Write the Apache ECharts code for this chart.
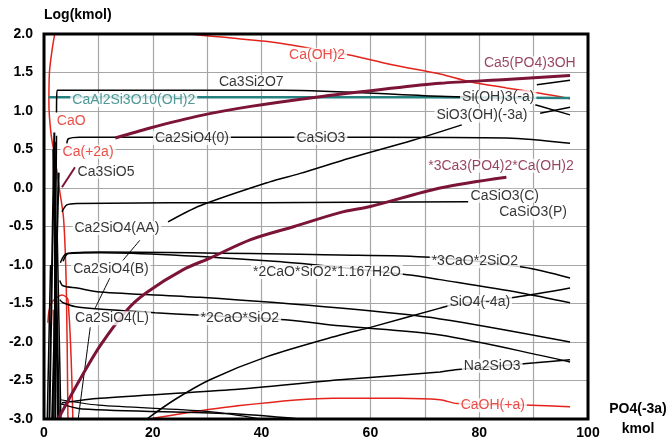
<!DOCTYPE html>
<html>
<head>
<meta charset="utf-8">
<script src="https://cdn.jsdelivr.net/npm/echarts@6/dist/echarts.min.js"></script>
<style>
  html, body { margin: 0; padding: 0; background: #fff; }
  #chart { width: 667px; height: 440px; }
</style>
</head>
<body>
<div id="chart"></div>
<script>
// tick values
const xTickStep = 20;
const yTickDigits = 1;

// curves: [PO4 kmol, log(kmol)]
const caOH2Upper = [[25, 2.03], [26.8, 2.0], [34, 1.95], [41.5, 1.9], [45.2, 1.86], [50, 1.8], [55.9, 1.73], [64, 1.6], [72.8, 1.48], [78.3, 1.38], [85, 1.3], [91.2, 1.23], [96.7, 1.16]];
const caOH2Left = [[2.1, 2.05], [1.5, 1.8], [1.0, 1.5], [0.9, 1.1], [1.3, 0.7], [2.0, 0.4], [2.8, 0.0], [3.6, -0.4], [4.1, -1.3], [4.4, -3.0]];
const ca5PO43OH = [[13.1, 0.65], [19.5, 0.78], [28.7, 0.94], [38, 1.06], [50, 1.18], [62, 1.28], [72.8, 1.36], [85, 1.41], [96.7, 1.46]];
const ca3PO42CaOH2 = [[2.6, -3.0], [6.5, -2.5], [10.3, -2.05], [15.3, -1.58], [19, -1.35], [25.6, -1.06], [30.5, -0.91], [38, -0.67], [46, -0.5], [54.4, -0.32], [60, -0.24], [72.8, 0.0], [85, 0.14]];
const ca3Si2O7 = [[2.3, 0.98], [2.4, 1.27], [30.5, 1.27], [43.9, 1.27], [72.8, 1.19], [80, 1.18]];
const siOH3 = [[90.6, 1.34], [96.7, 1.4]];
const caAl2Si3O10 = [[0.8, 1.18], [50, 1.18], [96.7, 1.17]];
const caSiO3 = [[4.2, 0.58], [4.5, 0.64], [6.5, 0.66], [30, 0.66], [60, 0.66], [85, 0.65], [96.7, 0.58]];
const sio3OH = [[22.8, -0.44], [28.7, -0.23], [41.5, 0.08], [47.1, 0.19], [56.3, 0.39], [67.8, 0.62], [76.8, 0.82]];
const rightDown = [[90.3, 1.08], [96.7, 0.95]];
const rightUp = [[91.2, 0.97], [96.7, 1.05]];
const caSiO3C = [[3.3, -0.31], [4.2, -0.22], [6, -0.2], [40, -0.19], [78, -0.18]];
const c3CaO2SiO2 = [[3.0, -0.97], [4.2, -0.85], [10.3, -0.83], [54.4, -0.87], [71, -0.9], [88.2, -1.03], [96.7, -1.17]];
const c2CaOSiO2H2O = [[3.5, -0.95], [4.5, -0.85], [10.3, -0.84], [43.9, -0.96], [67.3, -1.13], [72.8, -1.19], [87.5, -1.36], [96.7, -1.49]];
const ca2SiO4B = [[2.9, -1.2], [3.5, -1.27], [6.1, -1.3], [10.3, -1.35], [28.7, -1.42], [54.4, -1.56], [72.8, -1.7], [96.7, -2.0]];
const c2CaOSiO2 = [[2.9, -1.45], [3.5, -1.49], [6.5, -1.55], [20.4, -1.62], [28.1, -1.65], [44.3, -1.71], [54.4, -1.79], [72.8, -1.91], [96.7, -2.26]];
const sio4 = [[18.9, -3.0], [24, -2.75], [30.5, -2.49], [41, -2.19], [54.4, -1.91], [60, -1.81], [72.8, -1.56], [75, -1.52], [86.6, -1.42], [96.7, -1.3]];
const na2SiO3 = [[3.3, -2.79], [10.3, -2.73], [34.2, -2.62], [54.4, -2.49], [72.8, -2.39], [75.6, -2.36], [90.3, -2.27], [96.7, -2.23]];
const caOHa = [[20, -2.99], [34.2, -2.84], [53.1, -2.73], [65.4, -2.73], [72.8, -2.75], [76, -2.8], [89.7, -2.82], [96.7, -2.84]];
const lowDesc1 = [[3, -2.8], [7, -2.87], [34, -2.93], [47, -3.0]];
const lowDesc2 = [[3, -2.75], [10, -2.82], [30, -2.9], [40, -3.0]];
const leaderAA = [[17.6, -0.68], [14.5, -0.94]];
const leaderB = [[12.1, -1.17], [9.4, -1.56]];
const leaderL = [[8.5, -1.81], [6.3, -2.99]];
const ca3SiO5 = [[3.3, 0.01], [5.7, 0.27]];
const caPlus = [[0.7, -1.75], [1.3, -1.5], [3.3, -1.39], [4.4, -1.45], [5.3, -3.0]];
const caPlus2 = [[1.7, -1.58], [2.0, -2.4]];
const steep1 = [[1.0, -3], [1.9, 0.72]];
const steep2 = [[2.1, -3], [2.0, 0.6]];
const steep3 = [[1.5, -3], [2.7, 0.2]];
const steep4 = [[2.6, -3], [1.7, 0.5]];
const steep5 = [[3.1, -3], [2.4, -0.5]];
const steep6 = [[0.6, -3], [1.2, -1.0]];
const steep7 = [[1.8, -3], [2.3, 0.68]];
const steep8 = [[2.8, -3], [2.2, -0.9]];

// label texts and anchor points
const labelTexts = ['Ca(OH)2', 'Ca5(PO4)3OH', 'Ca3Si2O7', 'CaAl2Si3O10(OH)2', 'Si(OH)3(-a)', 'SiO3(OH)(-3a)', 'CaO', 'Ca2SiO4(0)', 'CaSiO3', 'Ca(+2a)', 'Ca3SiO5', '*3Ca3(PO4)2*Ca(OH)2', 'CaSiO3(C)', 'CaSiO3(P)', 'Ca2SiO4(AA)', '*3CaO*2SiO2', '*2CaO*SiO2*1.167H2O', 'Ca2SiO4(B)', 'SiO4(-4a)', 'Ca2SiO4(L)', '*2CaO*SiO2', 'Na2SiO3', 'CaOH(+a)'];
const labelX = [50.2, 89.3, 38.1, 16.5, 83.5, 80.5, 5.0, 27.2, 50.9, 8.1, 11.4, 84.0, 84.7, 89.9, 13.4, 79.2, 52.0, 12.3, 80.1, 12.5, 36.0, 82.4, 82.5];
const labelY = [1.73, 1.62, 1.38, 1.14, 1.18, 0.94, 0.87, 0.65, 0.65, 0.47, 0.21, 0.29, -0.10, -0.32, -0.52, -0.95, -1.09, -1.06, -1.48, -1.69, -1.69, -2.31, -2.82];
const labelKind = ['red', 'maroon', 'black', 'teal', 'black', 'black', 'red', 'black', 'black', 'red', 'black', 'maroon', 'black', 'black', 'black', 'black', 'black', 'black', 'black', 'black', 'black', 'black', 'red'];

const COLORS = { black: '#000', red: '#e3231c', maroon: '#7c1438', teal: '#26807f' };
const FONT = '"Liberation Sans", Arial, sans-serif';

const curveList = [
  [caOH2Upper, 'red', 1.5], [caOH2Left, 'red', 1.5], [caPlus, 'red', 1.5], [caPlus2, 'red', 1.5], [caOHa, 'red', 1.5],
  [ca5PO43OH, 'maroon', 3], [ca3PO42CaOH2, 'maroon', 3], [ca3SiO5, 'maroon', 2],
  [caAl2Si3O10, 'teal', 2.5],
  [ca3Si2O7, 'black', 1.5], [siOH3, 'black', 1.5], [caSiO3, 'black', 1.5], [sio3OH, 'black', 1.5],
  [rightDown, 'black', 1.5], [rightUp, 'black', 1.5], [caSiO3C, 'black', 1.5], [c3CaO2SiO2, 'black', 1.5],
  [c2CaOSiO2H2O, 'black', 1.5], [ca2SiO4B, 'black', 1.5], [c2CaOSiO2, 'black', 1.5], [sio4, 'black', 1.5],
  [na2SiO3, 'black', 1.5], [lowDesc1, 'black', 1.5], [lowDesc2, 'black', 1.2],
  [leaderAA, 'black', 1], [leaderB, 'black', 1], [leaderL, 'black', 1],
  [steep1, 'black', 2], [steep2, 'black', 2], [steep3, 'black', 2], [steep4, 'black', 2], [steep5, 'black', 1.5], [steep6, 'black', 1.5],
  [steep7, 'black', 1.5], [steep8, 'black', 1.5]
];

const series = curveList.map(([data, kind, width]) => ({
  type: 'line',
  data: data,
  showSymbol: false,
  silent: true,
  smooth: 0.3,
  lineStyle: { color: COLORS[kind], width: width },
  z: kind === 'maroon' ? 3 : 2
}));

series.push({
  type: 'scatter',
  symbolSize: 0,
  silent: true,
  z: 10,
  data: labelTexts.map((t, i) => ({
    value: [labelX[i], labelY[i]],
    name: t,
    label: { color: COLORS[labelKind[i]] }
  })),
  label: {
    show: true,
    position: 'inside',
    formatter: p => p.name,
    fontFamily: FONT,
    fontSize: 14,
    backgroundColor: '#fff',
    padding: [0, 2]
  }
});

const chart = echarts.init(document.getElementById('chart'));
chart.setOption({
  animation: false,
  backgroundColor: '#fff',
  grid: {
    left: 44, right: 79, top: 34, bottom: 21,
    containLabel: false, outerBoundsMode: 'none',
    show: true, borderColor: '#000', borderWidth: 3, z: 20
  },
  xAxis: {
    type: 'value', min: 0, max: 100, interval: 10,
    name: 'PO4(-3a)\nkmol', nameLocation: 'end', nameGap: 50,
    nameTextStyle: { fontFamily: FONT, fontSize: 14, fontWeight: 'bold', color: '#000', align: 'center', lineHeight: 20, padding: [14, 0, 0, 0] },
    axisLine: { show: false, onZero: false }, axisTick: { show: false },
    axisLabel: {
      formatter: v => (v % xTickStep === 0 ? String(v) : ''),
      fontFamily: FONT, fontSize: 14, fontWeight: 'bold', color: '#000', margin: 7
    },
    splitLine: { show: true, lineStyle: { color: '#a6a6a6', width: 1.2 } }
  },
  yAxis: {
    type: 'value', min: -3, max: 2, interval: 0.5,
    name: 'Log(kmol)', nameLocation: 'end', nameGap: 12,
    nameTextStyle: { fontFamily: FONT, fontSize: 14, fontWeight: 'bold', color: '#000', align: 'left' },
    axisLine: { show: false, onZero: false }, axisTick: { show: false },
    axisLabel: {
      formatter: v => v.toFixed(yTickDigits),
      fontFamily: FONT, fontSize: 14, fontWeight: 'bold', color: '#000', margin: 11
    },
    splitLine: { show: true, lineStyle: { color: '#a6a6a6', width: 1.2 } }
  },
  series: series
});
</script>
</body>
</html>
